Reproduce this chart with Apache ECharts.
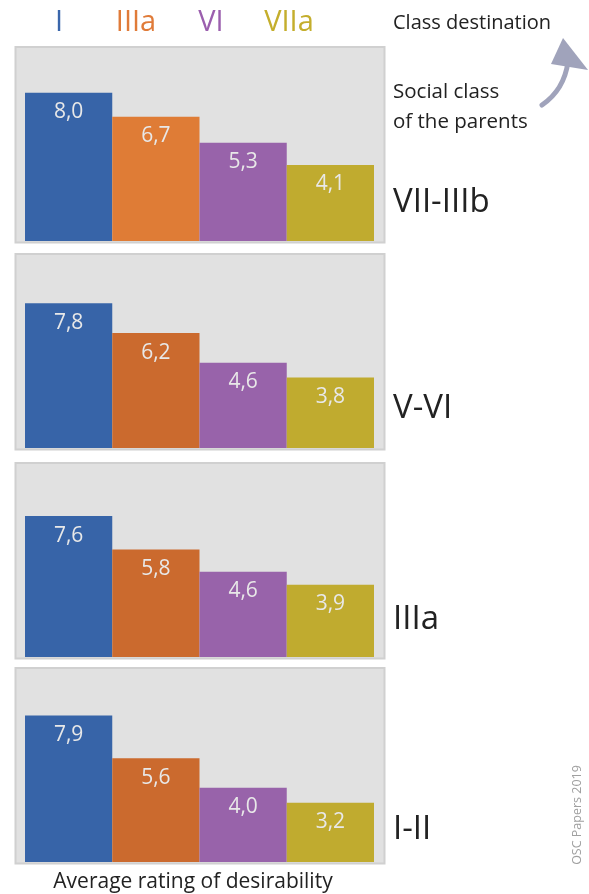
<!DOCTYPE html>
<html>
<head>
<meta charset="utf-8">
<script src="https://cdn.jsdelivr.net/npm/echarts@6/dist/echarts.min.js"></script>
<style>
  html, body { margin: 0; padding: 0; background: #fff; }
  #chart { width: 589px; height: 894px; }
</style>
</head>
<body>
<div id="chart"></div>
<script>
// class destination (bars) and social class of the parents (panels)
const destinations = ['I', 'IIIa', 'VI', 'VIIa']
const parentClasses = ['VII-IIIb', 'V-VI', 'IIIa', 'I-II']

const ratingVII = [8.0, 6.7, 5.3, 4.1]
const ratingV = [7.8, 6.2, 4.6, 3.8]
const ratingIIIa = [7.6, 5.8, 4.6, 3.9]
const ratingI = [7.9, 5.6, 4.0, 3.2]
const panelData = [ratingVII, ratingV, ratingIIIa, ratingI]

const headColors = ['#3a66ab', '#e07b39', '#9b5fae', '#c4ae2c']
const barColorsFirst = ['#3764a8', '#df7c36', '#9863aa', '#c0ab2f']
const barColors = ['#3764a8', '#cb6a2e', '#9863aa', '#c0ab2f']

const FONT = 'Open Sans'
const gridBottoms = [241, 448, 657, 862]
const gridH = 191
const gridLeft = 25
const gridW = 349

const chart = echarts.init(document.getElementById('chart'))

const grids = [], xAxes = [], yAxes = [], series = [], graphics = []

panelData.forEach((vals, i) => {
  const top = gridBottoms[i] - gridH
  grids.push({ left: gridLeft, top: top, width: gridW, height: gridH })
  xAxes.push({ type: 'category', gridIndex: i, data: destinations, show: false })
  yAxes.push({ type: 'value', gridIndex: i, min: 0, max: 10.3, show: false })
  const cols = i === 0 ? barColorsFirst : barColors
  series.push({
    type: 'bar',
    xAxisIndex: i,
    yAxisIndex: i,
    barCategoryGap: 0,
    data: vals.map((v, j) => ({ value: v, itemStyle: { color: cols[j] } })),
    label: {
      show: true,
      position: 'insideTop',
      distance: 9,
      color: '#e8e8e8',
      fontFamily: FONT,
      fontSize: 21,
      formatter: p => p.value.toFixed(1).replace('.', ',')
    },
    silent: true,
    animation: false
  })
  // panel background
  graphics.push({
    type: 'rect',
    z: 0,
    shape: { x: 15.5, y: top - 3, width: 369, height: gridH + 4.5 },
    style: { fill: '#e1e1e1', stroke: '#d0d0d0', lineWidth: 2 }
  })
})

// class destination header
const headX = [59, 136, 211, 289]
destinations.forEach((d, j) => {
  graphics.push({
    type: 'text', x: headX[j], y: 23,
    style: { text: d, fill: headColors[j], font: '29px "' + FONT + '"', textAlign: 'center', textVerticalAlign: 'middle' }
  })
})

// parent class labels
const rightY = [203, 409, 620, 830]
parentClasses.forEach((c, i) => {
  graphics.push({
    type: 'text', x: 393, y: rightY[i],
    style: { text: c, fill: '#222', font: '33px "' + FONT + '"', textAlign: 'left', textVerticalAlign: 'middle' }
  })
})

graphics.push(
  { type: 'text', x: 393, y: 23, style: { text: 'Class destination', fill: '#222', font: '20px "' + FONT + '"', textVerticalAlign: 'middle' } },
  { type: 'text', x: 393, y: 92, style: { text: 'Social class', fill: '#222', font: '20.5px "' + FONT + '"', textVerticalAlign: 'middle' } },
  { type: 'text', x: 393, y: 122, style: { text: 'of the parents', fill: '#222', font: '20.5px "' + FONT + '"', textVerticalAlign: 'middle' } },
  { type: 'text', x: 193, y: 882, style: { text: 'Average rating of desirability', fill: '#222', font: '21px "' + FONT + '"', textAlign: 'center', textVerticalAlign: 'middle' } },
  { type: 'text', x: 577, y: 815, rotation: Math.PI / 2,
    style: { text: 'OSC Papers 2019', fill: '#a0a0a0', font: '12.5px "' + FONT + '"', textAlign: 'center', textVerticalAlign: 'middle' } },
  // arrow
  { type: 'bezierCurve',
    shape: { x1: 542, y1: 105, x2: 568, y2: 62, cpx1: 564, cpy1: 90 },
    style: { stroke: '#a0a3bb', lineWidth: 5, fill: null, lineCap: 'round' } },
  { type: 'polygon',
    shape: { points: [[563, 38], [551, 64], [588, 70]] },
    style: { fill: '#a0a3bb' } }
)

chart.setOption({
  backgroundColor: '#fff',
  animation: false,
  grid: grids,
  xAxis: xAxes,
  yAxis: yAxes,
  series: series,
  graphic: graphics
})
</script>
</body>
</html>
